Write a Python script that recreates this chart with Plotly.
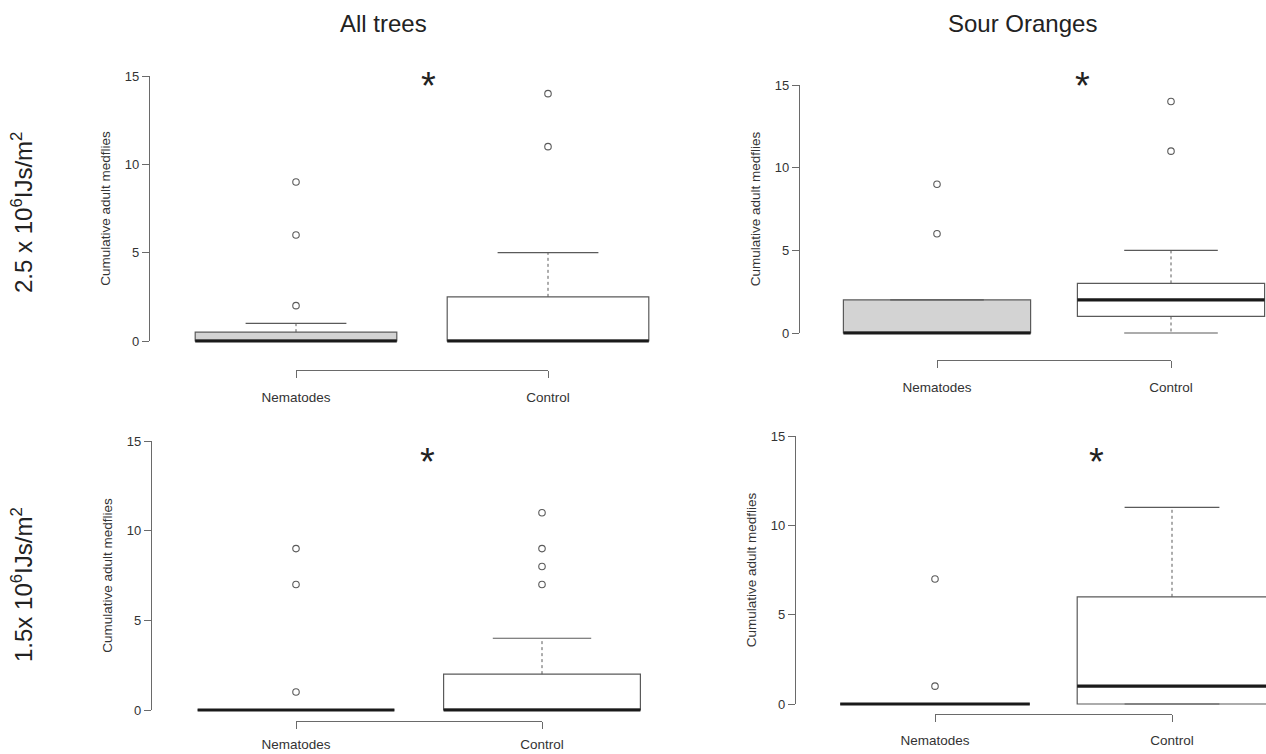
import plotly.graph_objects as go

# ---------------- data ----------------
categories = ["Nematodes", "Control"]
cat_pos = [1, 2]

col_titles = ["All trees", "Sour Oranges"]
row_titles = ["2.5 x 10<sup>6</sup>IJs/m<sup>2</sup>", "1.5x 10<sup>6</sup>IJs/m<sup>2</sup>"]
y_title = "Cumulative adult medflies"
y_ticks = [0, 5, 10, 15]

# top-left: 2.5e6, all trees
tl_q1 = [0, 0]
tl_median = [0, 0]
tl_q3 = [0.5, 2.5]
tl_lower = [0, 0]
tl_upper = [1, 5]
tl_outliers = [[2, 6, 9], [11, 14]]

# top-right: 2.5e6, sour oranges
tr_q1 = [0, 1]
tr_median = [0, 2]
tr_q3 = [2, 3]
tr_lower = [0, 0]
tr_upper = [2, 5]
tr_outliers = [[6, 9], [11, 14]]

# bottom-left: 1.5e6, all trees
bl_q1 = [0, 0]
bl_median = [0, 0]
bl_q3 = [0, 2]
bl_lower = [0, 0]
bl_upper = [0, 4]
bl_outliers = [[1, 7, 9], [7, 8, 9, 11]]

# bottom-right: 1.5e6, sour oranges
br_q1 = [0, 0]
br_median = [0, 1]
br_q3 = [0, 6]
br_lower = [0, 0]
br_upper = [0, 11]
br_outliers = [[1, 7], []]

# significance marker positions (data coords of each panel)
star_x = [1.525, 1.62, 1.535, 1.68]
star_y = [14.45, 14.95, 13.85, 13.55]

# ---------------- layout geometry (pixels) ----------------
W, H = 1266, 754
geom = [
    dict(axis_x=150, y0=341, y15=76, c1=296, c2=548, bracket=370, right=658, lab=8),
    dict(axis_x=800, y0=333, y15=85, c1=937, c2=1171, bracket=360, right=1266, lab=8),
    dict(axis_x=152, y0=710, y15=441, c1=296, c2=542, bracket=721, right=658, lab=4),
    dict(axis_x=796, y0=704, y15=436, c1=935, c2=1172, bracket=714, right=1266, lab=7),
]

FONT = "Liberation Sans, Arial, Helvetica, sans-serif"
GRAY = "#5a5a5a"
AXIS = "#6a6a6a"
fills = ["#d3d3d3", "#ffffff"]
BOX_HALF = 0.4
CAP_HALF = 0.2


def fx(px):
    return px / W


def fy(py):
    return 1 - py / H


panels = [
    (tl_q1, tl_median, tl_q3, tl_lower, tl_upper, tl_outliers),
    (tr_q1, tr_median, tr_q3, tr_lower, tr_upper, tr_outliers),
    (bl_q1, bl_median, bl_q3, bl_lower, bl_upper, bl_outliers),
    (br_q1, br_median, br_q3, br_lower, br_upper, br_outliers),
]

fig = go.Figure()
layout = {}
annotations = []

for k, (g, stats) in enumerate(zip(geom, panels)):
    n = k + 1
    xa = "x" if n == 1 else f"x{n}"
    ya = "y" if n == 1 else f"y{n}"
    q1s, meds, q3s, los, his, outs = stats

    for i, pos in enumerate(cat_pos):
        # box body
        fig.add_trace(go.Box(
            x=[pos], q1=[q1s[i]], median=[meds[i]], q3=[q3s[i]],
            lowerfence=[q1s[i]], upperfence=[q3s[i]],
            width=2 * BOX_HALF, fillcolor=fills[i],
            line=dict(color=GRAY, width=1.2), whiskerwidth=0,
            boxpoints=False, hoverinfo="skip", showlegend=False,
            xaxis=xa, yaxis=ya,
        ))
        # dashed whiskers
        wx, wy = [], []
        if his[i] > q3s[i]:
            wx += [pos, pos, None]
            wy += [q3s[i], his[i], None]
        if los[i] < q1s[i]:
            wx += [pos, pos, None]
            wy += [q1s[i], los[i], None]
        if wx:
            fig.add_trace(go.Scatter(
                x=wx, y=wy, mode="lines",
                line=dict(color=GRAY, width=1, dash="3px,3px"),
                hoverinfo="skip", showlegend=False, xaxis=xa, yaxis=ya,
            ))
        # staples
        fig.add_trace(go.Scatter(
            x=[pos - CAP_HALF, pos + CAP_HALF, None, pos - CAP_HALF, pos + CAP_HALF],
            y=[his[i], his[i], None, los[i], los[i]],
            mode="lines", line=dict(color=GRAY, width=1.2),
            hoverinfo="skip", showlegend=False, xaxis=xa, yaxis=ya,
        ))
        # thick median
        fig.add_trace(go.Scatter(
            x=[pos - BOX_HALF, pos + BOX_HALF], y=[meds[i], meds[i]],
            mode="lines", line=dict(color="#1a1a1a", width=3.2),
            hoverinfo="skip", showlegend=False, xaxis=xa, yaxis=ya,
        ))
        # outliers
        if outs[i]:
            fig.add_trace(go.Scatter(
                x=[pos] * len(outs[i]), y=outs[i], mode="markers",
                marker=dict(symbol="circle-open", size=6.5, color=GRAY,
                            line=dict(width=1.1, color=GRAY)),
                hoverinfo="skip", showlegend=False, xaxis=xa, yaxis=ya,
            ))

    # data axes (hidden), aligned to the pixel geometry
    unit = g["c2"] - g["c1"]
    xr = [1 + (g["axis_x"] - g["c1"]) / unit, 1 + (g["right"] - g["c1"]) / unit]
    unit_y = (g["y0"] - g["y15"]) / 15.0
    bot_px = g["y0"] + 14
    top_px = g["y15"] - 14
    yr = [-(bot_px - g["y0"]) / unit_y, 15 + (g["y15"] - top_px) / unit_y]
    layout["xaxis" if n == 1 else f"xaxis{n}"] = dict(
        domain=[fx(g["axis_x"]), fx(g["right"])], range=xr, visible=False,
        anchor=ya, fixedrange=True, automargin=False,
    )
    layout["yaxis" if n == 1 else f"yaxis{n}"] = dict(
        domain=[fy(bot_px), fy(top_px)], range=yr, visible=False,
        anchor=xa, fixedrange=True, automargin=False,
    )

    # y decoration axis (R style: line only from 0 to 15)
    m = n + 4
    fig.add_trace(go.Scatter(x=[None], y=[None], mode="markers", hoverinfo="skip",
                             showlegend=False, xaxis=f"x{m}", yaxis=f"y{m}"))
    layout[f"xaxis{m}"] = dict(
        domain=[fx(g["axis_x"]), fx(g["axis_x"]) + 0.004], range=[0, 1],
        visible=False, anchor=f"y{m}", fixedrange=True, automargin=False,
    )
    layout[f"yaxis{m}"] = dict(
        domain=[fy(g["y0"]), fy(g["y15"])], range=[0, 15], anchor=f"x{m}",
        showline=True, linecolor=AXIS, linewidth=1.2,
        ticks="outside", ticklen=7, tickwidth=1.2, tickcolor=AXIS,
        tickmode="array", tickvals=y_ticks, ticktext=[str(v) for v in y_ticks],
        tickfont=dict(family=FONT, size=13, color="#333333"),
        showgrid=False, zeroline=False, fixedrange=True, automargin=False,
        title=dict(text=y_title, standoff=11,
                   font=dict(family=FONT, size=13.5, color="#333333")),
    )

    # x decoration axis (R style bracket from 1 to 2)
    p = n + 8
    fig.add_trace(go.Scatter(x=[None], y=[None], mode="markers", hoverinfo="skip",
                             showlegend=False, xaxis=f"x{p}", yaxis=f"y{p}"))
    layout[f"xaxis{p}"] = dict(
        domain=[fx(g["c1"]), fx(g["c2"])], range=[1, 2], anchor=f"y{p}",
        showline=True, linecolor=AXIS, linewidth=1.2,
        ticks="outside", ticklen=7, tickwidth=1.2, tickcolor=AXIS,
        tickmode="array", tickvals=cat_pos, ticktext=categories,
        ticklabelstandoff=g["lab"],
        tickfont=dict(family=FONT, size=13.5, color="#333333"),
        showgrid=False, zeroline=False, fixedrange=True, automargin=False,
    )
    layout[f"yaxis{p}"] = dict(
        domain=[fy(g["bracket"]), fy(g["bracket"]) + 0.004], range=[0, 1],
        visible=False, anchor=f"x{p}", fixedrange=True, automargin=False,
    )

    annotations.append(dict(
        x=star_x[k], y=star_y[k], xref=xa, yref=ya, text="*", showarrow=False,
        font=dict(family=FONT, size=38, color="#222222"),
        xanchor="center", yanchor="middle",
    ))

# column and row titles
for txt, cx in zip(col_titles, [383, 1022]):
    annotations.append(dict(
        x=fx(cx), y=fy(23), xref="paper", yref="paper", text=txt,
        showarrow=False, xanchor="center", yanchor="middle",
        font=dict(family=FONT, size=24, color="#222222"),
    ))
for txt, cy in zip(row_titles, [213, 585]):
    annotations.append(dict(
        x=fx(22), y=fy(cy), xref="paper", yref="paper", text=txt,
        showarrow=False, xanchor="center", yanchor="middle", textangle=-90,
        font=dict(family=FONT, size=24, color="#222222"),
    ))

fig.update_layout(
    width=W, height=H, autosize=False,
    margin=dict(l=0, r=0, t=0, b=0, pad=0, autoexpand=False),
    paper_bgcolor="white", plot_bgcolor="rgba(0,0,0,0)",
    showlegend=False, boxmode="overlay",
    annotations=annotations,
    **layout,
)

fig.write_html(
    "out.html",
    config={"displayModeBar": False},
    post_script="document.body.style.margin='0';document.body.style.overflow='hidden';",
)
